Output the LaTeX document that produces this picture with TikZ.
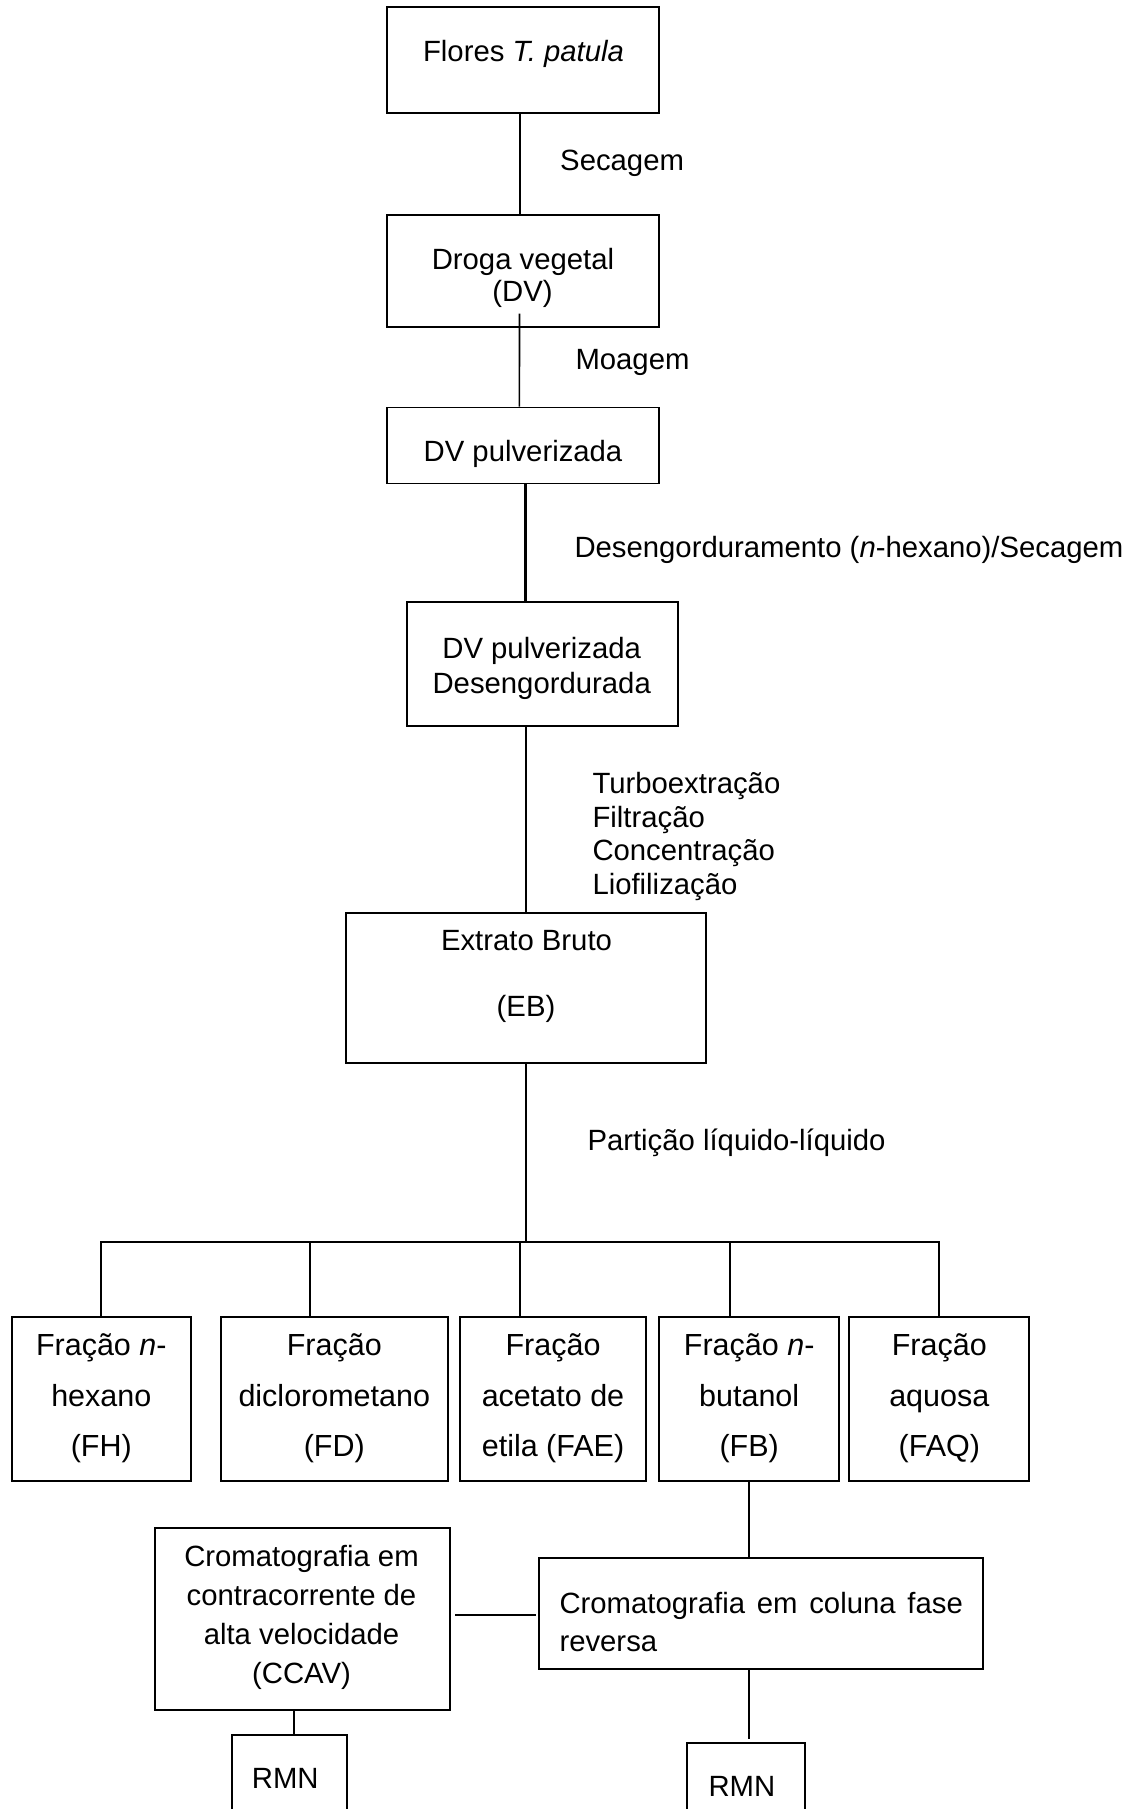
\documentclass[tikz,border=0pt]{standalone}
\usepackage{fontspec}
\setmainfont{Liberation Sans}
\usetikzlibrary{calc}
\begin{document}
\begin{tikzpicture}[x=1pt,y=-1pt,
  box/.style 2 args={draw=black, line width=1.8pt, inner sep=0pt, rectangle, minimum width=#1, minimum height=#2},
  tx/.style={font=\fontsize{29.3}{33.7}\selectfont, inner sep=0pt, anchor=base},
  txl/.style={tx, anchor=base west},
  fx/.style={font=\fontsize{30.5}{36}\selectfont, inner sep=0pt, anchor=base},
  conn/.style={line width=1.6pt},
  heavy/.style={line width=3pt},
  trunk/.style={line width=2pt},
  dropheavy/.style={line width=2.6pt}]
\useasboundingbox (0,0) rectangle (1132,1809);
\clip (0,0) rectangle (1132,1809);

% boxes
\node[box={272pt}{106pt}] (flores) at (523.3,60.3) {};
\node[box={272pt}{112pt}] (dv) at (523.3,271) {};
\node[box={272pt}{76pt}] (dvp) at (523.2,445.4) {};
\node[box={271pt}{124.3pt}] (dvd) at (542.2,663.9) {};
\node[box={360pt}{150pt}] (eb) at (526,987.7) {};
\node[box={179.3pt}{164.3pt}] (fh) at (101.3,1398.8) {};
\node[box={226.7pt}{164.3pt}] (fd) at (334.3,1398.8) {};
\node[box={186pt}{164.3pt}] (fae) at (553,1398.8) {};
\node[box={179.7pt}{164.3pt}] (fb) at (749.2,1398.8) {};
\node[box={180pt}{164.3pt}] (faq) at (939.3,1398.8) {};
\node[box={295pt}{182.3pt}] (ccav) at (302.5,1618.8) {};
\node[box={444.3pt}{111pt}] (cfr) at (761.2,1613.8) {};
\node[box={114.4pt}{120pt}] (rmn1) at (289.5,1795) {};
\node[box={118.3pt}{120pt}] (rmn2) at (745.9,1803.3) {};

% texts
\node[tx] (t-flores) at (523.5,62) {Flores \textit{T. patula}};
\node[txl] (t-sec) at (560,170) {Secagem};
\node[tx] (t-dv1) at (523,269.3) {Droga vegetal};
\node[tx] (t-dv2) at (522.5,301.7) {(DV)};
\node[txl] (t-moa) at (575.3,369.3) {Moagem};
\node[tx] (t-dvp) at (523,461.7) {DV pulverizada};
\node[txl] (t-des) at (574.3,557) {Desengorduramento (\textit{n}-hexano)/Secagem};
\node[tx] (t-dvd1) at (541.7,658) {DV pulverizada};
\node[tx] (t-dvd2) at (541.7,693) {Desengordurada};
\node[txl] (t-turbo) at (592.3,793.5) {Turboextração};
\node[txl] (t-filt) at (592.3,827) {Filtração};
\node[txl] (t-conc) at (592.3,860.5) {Concentração};
\node[txl] (t-liof) at (592.3,894) {Liofilização};
\node[tx] (t-eb1) at (526.5,950) {Extrato Bruto};
\node[tx] (t-eb2) at (526,1016.7) {(EB)};
\node[txl] (t-part) at (587.3,1150) {Partição líquido-líquido};

\node[fx] (t-fh1) at (101.3,1355.5) {Fração \textit{n}-};
\node[fx] (t-fh2) at (101.3,1406) {hexano};
\node[fx] (t-fh3) at (101.3,1456.5) {(FH)};
\node[fx] (t-fd1) at (334.3,1355.5) {Fração};
\node[fx] (t-fd2) at (334.3,1406) {diclorometano};
\node[fx] (t-fd3) at (334.3,1456.5) {(FD)};
\node[fx] (t-fae1) at (553,1355.5) {Fração};
\node[fx] (t-fae2) at (553,1406) {acetato de};
\node[fx] (t-fae3) at (553,1456.5) {etila (FAE)};
\node[fx] (t-fb1) at (749.2,1355.5) {Fração \textit{n}-};
\node[fx] (t-fb2) at (749.2,1406) {butanol};
\node[fx] (t-fb3) at (749.2,1456.5) {(FB)};
\node[fx] (t-faq1) at (939.3,1355.5) {Fração};
\node[fx] (t-faq2) at (939.3,1406) {aquosa};
\node[fx] (t-faq3) at (939.3,1456.5) {(FAQ)};

\node[tx] (t-cc1) at (301.5,1566) {Cromatografia em};
\node[tx] (t-cc2) at (301.5,1605) {contracorrente de};
\node[tx] (t-cc3) at (301.5,1644) {alta velocidade};
\node[tx] (t-cc4) at (301.5,1683) {(CCAV)};
\node[txl] (t-cfr1) at (559.3,1613.3) {\makebox[403.4pt][s]{Cromatografia em coluna fase}};
\node[txl] (t-cfr2) at (559.3,1651) {reversa};
\node[txl] (t-rmn1) at (251.7,1788.3) {RMN};
\node[txl] (t-rmn2) at (708.3,1796) {RMN};

% connectors
\draw[conn] ([xshift=-3.3pt]flores.south) -- ([xshift=-3.3pt]dv.north);
\draw[conn] ([xshift=-3.8pt,yshift=14.3pt]dv.south) -- ([xshift=-3.8pt]dvp.north);
\coordinate (k1) at ([xshift=1.8pt]dvp.south);
\draw[heavy] (k1) -- (k1 |- dvd.north);
\draw[conn] (dvd.south -| eb.north) -- (eb.north);
\coordinate (bar) at ($(eb.south)+(0,179.3)$);
\draw[trunk] (eb.south) -- (bar);
\coordinate (b1) at (101,1242);
\coordinate (b2) at (310,1242);
\coordinate (b3) at (520,1242);
\coordinate (b4) at (730,1242);
\coordinate (b5) at (939,1242);
\draw[trunk] (b1 |- fh.north) -- (b1) -- (b5) -- (b5 |- faq.north);
\draw[dropheavy] (b1) -- (b1 |- fh.north);
\draw[dropheavy] (b2) -- (b2 |- fd.north);
\draw[conn] (b3) -- (b3 |- fae.north);
\draw[conn] (b4) -- (b4 |- fb.north);
\draw[conn] (fb.south) -- (fb.south |- cfr.north);
\draw[trunk] ($(ccav.east |- cfr.west)+(4.3,1.2)$) -- ($(cfr.west)+(-2.3,1.2)$);
\coordinate (r1) at ($(rmn1.north)+(4.5,0)$);
\draw[conn] (ccav.south -| r1) -- (r1);
\draw[conn] (cfr.south -| fb.south) -- ($(rmn2.north -| fb.south)+(0,-3)$);
\end{tikzpicture}
\end{document}
